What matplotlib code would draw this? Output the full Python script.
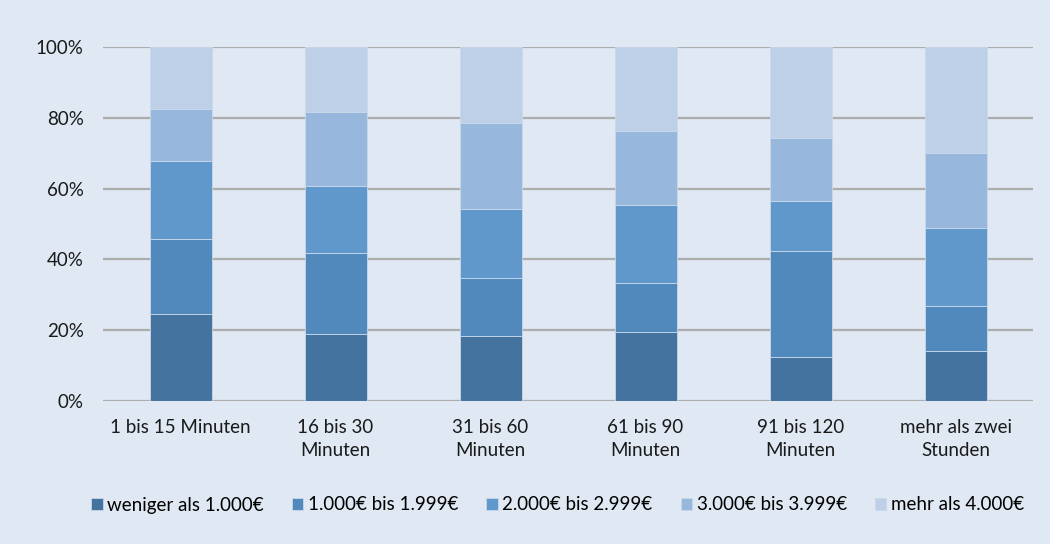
import numpy as np
import matplotlib.pyplot as plt

# Kategorien (Dauer) und Einkommensgruppen
categories = ["1 bis 15 Minuten", "16 bis 30\nMinuten", "31 bis 60\nMinuten",
              "61 bis 90\nMinuten", "91 bis 120\nMinuten", "mehr als zwei\nStunden"]
series_names = ["weniger als 1.000€", "1.000€ bis 1.999€", "2.000€ bis 2.999€",
                "3.000€ bis 3.999€", "mehr als 4.000€"]

under_1000 = [24.7, 19.0, 18.4, 19.5, 12.5, 14.2]
from_1000 = [21.0, 22.9, 16.3, 13.9, 29.9, 12.7]
from_2000 = [22.0, 18.7, 19.5, 22.1, 14.0, 22.0]
from_3000 = [14.9, 21.0, 24.2, 20.8, 17.9, 21.1]
over_4000 = [17.4, 18.4, 21.6, 23.7, 25.7, 30.0]

colors = ["#44739f", "#5289bd", "#6198cb", "#98b7dd", "#bdd0e8"]
bg = "#dfe8f3"

plt.rcParams['font.family'] = ['Lato', 'DejaVu Sans']

fig = plt.figure(figsize=(10.5, 5.44), dpi=100, facecolor=bg)
ax = fig.add_axes([103 / 1050, 1 - 401 / 544, 930 / 1050, 354 / 544], facecolor=bg)

x = np.arange(len(categories))
bottom = np.zeros(len(categories))
for name, vals, c in zip(series_names, [under_1000, from_1000, from_2000, from_3000, over_4000], colors):
    ax.bar(x, vals, 0.4, bottom=bottom, color=c, label=name,
           edgecolor="#c9d8ea", linewidth=0.6, zorder=3)
    bottom += np.array(vals)

ax.set_xlim(-0.5, len(categories) - 0.5)
ax.set_ylim(0, 100)
ax.set_yticks(range(0, 101, 20))
ax.set_yticklabels([f"{v}%" for v in range(0, 101, 20)])
ax.set_xticks(x)
ax.set_xticklabels(categories, linespacing=1.4, va="top")
ax.yaxis.grid(True, color="#adadad", linewidth=1.6, zorder=0)
ax.tick_params(axis="both", length=0, labelsize=13.5, colors="#1a1a1a")
ax.tick_params(axis="y", pad=14)
ax.tick_params(axis="x", pad=13)
for s in ax.spines.values():
    s.set_visible(False)

leg = fig.legend(loc="center", bbox_to_anchor=(0.531, 1 - 505 / 544), ncol=5,
                 frameon=False, fontsize=13.5, handlelength=0.6, handleheight=0.6,
                 handletextpad=0.25, columnspacing=1.5)

fig.savefig("out.png", dpi=100, facecolor=bg)
